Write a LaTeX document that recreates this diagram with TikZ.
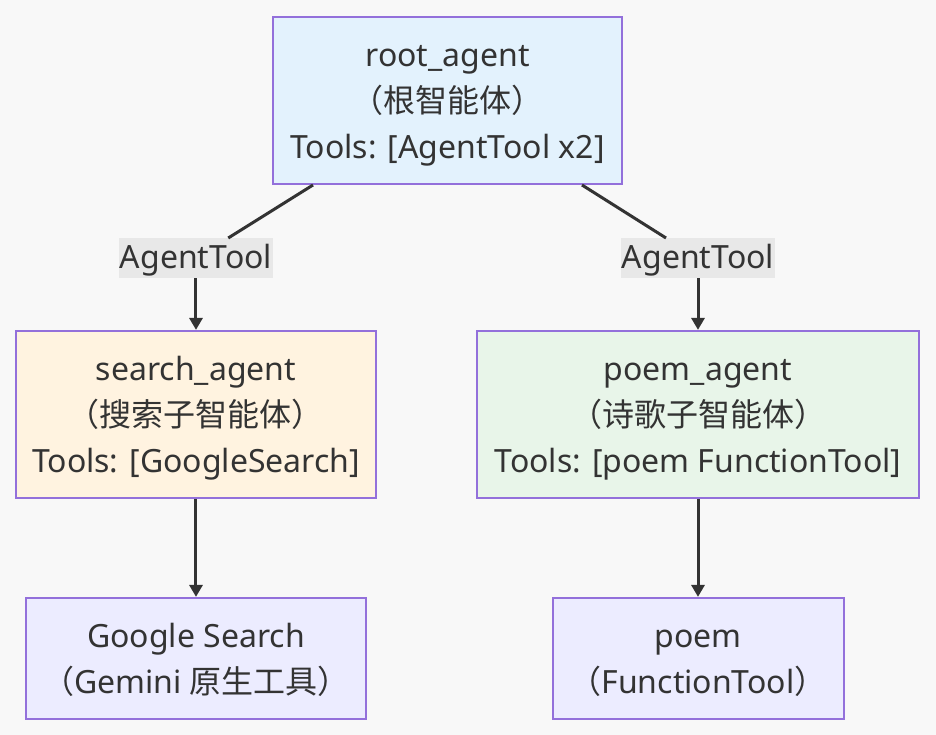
\documentclass[tikz,border=0pt]{standalone}
\usepackage{fontspec}
\setmainfont{Noto Sans}
\newfontfamily\cjk{Noto Sans CJK SC}
\usetikzlibrary{positioning,arrows.meta,backgrounds}
\definecolor{bgcol}{HTML}{F8F8F8}
\definecolor{linecol}{HTML}{333333}
\definecolor{bordercol}{HTML}{9370DB}
\definecolor{rootfill}{HTML}{E3F2FD}
\definecolor{searchfill}{HTML}{FFF3E0}
\definecolor{poemfill}{HTML}{E8F5E9}
\definecolor{toolfill}{HTML}{ECECFF}
\definecolor{labelfill}{HTML}{E8E8E8}

\begin{document}
\begin{tikzpicture}[
    x=1pt, y=1pt,
    agent/.style={rectangle, draw=bordercol, line width=2pt, align=center,
        text=linecol, font=\fontsize{32}{46}\selectfont,
        text height=127.5pt, text depth=10.5pt,
        minimum height=167pt, inner sep=0pt},
    tool/.style={agent, fill=toolfill, text height=81pt, text depth=11pt,
        minimum height=121pt},
    edgelabel/.style={rectangle, fill=labelfill, text=linecol,
        font=\fontsize{32}{46}\selectfont, text height=28pt, text depth=8pt,
        minimum height=40pt, inner xsep=1pt, inner ysep=0pt},
    link/.style={line width=3pt, draw=linecol},
    arrow/.style={link, -{Triangle[length=12pt, width=13pt]}}
]

% canvas
\fill[bgcol] (-447.5,100.5) rectangle (488.5,-634.5);

% Root agent
\node[agent, fill=rootfill, minimum width=349pt] (root)
    {root\_agent\\{\cjk （根智能体）}\\Tools: [AgentTool x2]};

% Edge labels
\node[edgelabel, below=53pt of root, xshift=-251.5pt] (lblSearch) {AgentTool};
\node[edgelabel, below=53pt of root, xshift=250.5pt] (lblPoem) {AgentTool};

% Sub agents
\node[agent, fill=searchfill, minimum width=360pt, below=51.5pt of lblSearch] (search)
    {search\_agent\\{\cjk （搜索子智能体）}\\Tools: [GoogleSearch]};
\node[agent, fill=poemfill, minimum width=442pt, below=51.5pt of lblPoem] (poemAgent)
    {poem\_agent\\{\cjk （诗歌子智能体）}\\Tools: [poem FunctionTool]};

% Tools
\node[tool, minimum width=340pt, below=98pt of search] (google)
    {Google Search\\{\cjk （}Gemini {\cjk 原生工具）}};
\node[tool, minimum width=291pt, below=98pt of poemAgent] (poem)
    {poem\\{\cjk （}FunctionTool{\cjk ）}};

% Arrows
\draw[link] ([xshift=-134.5pt]root.south) -- (lblSearch);
\draw[link] ([xshift=134.5pt]root.south) -- (lblPoem);
\draw[arrow] (lblSearch) -- (search);
\draw[arrow] (lblPoem) -- (poemAgent);
\draw[arrow] (search) -- (google);
\draw[arrow] (poemAgent) -- (poem);

\end{tikzpicture}
\end{document}
